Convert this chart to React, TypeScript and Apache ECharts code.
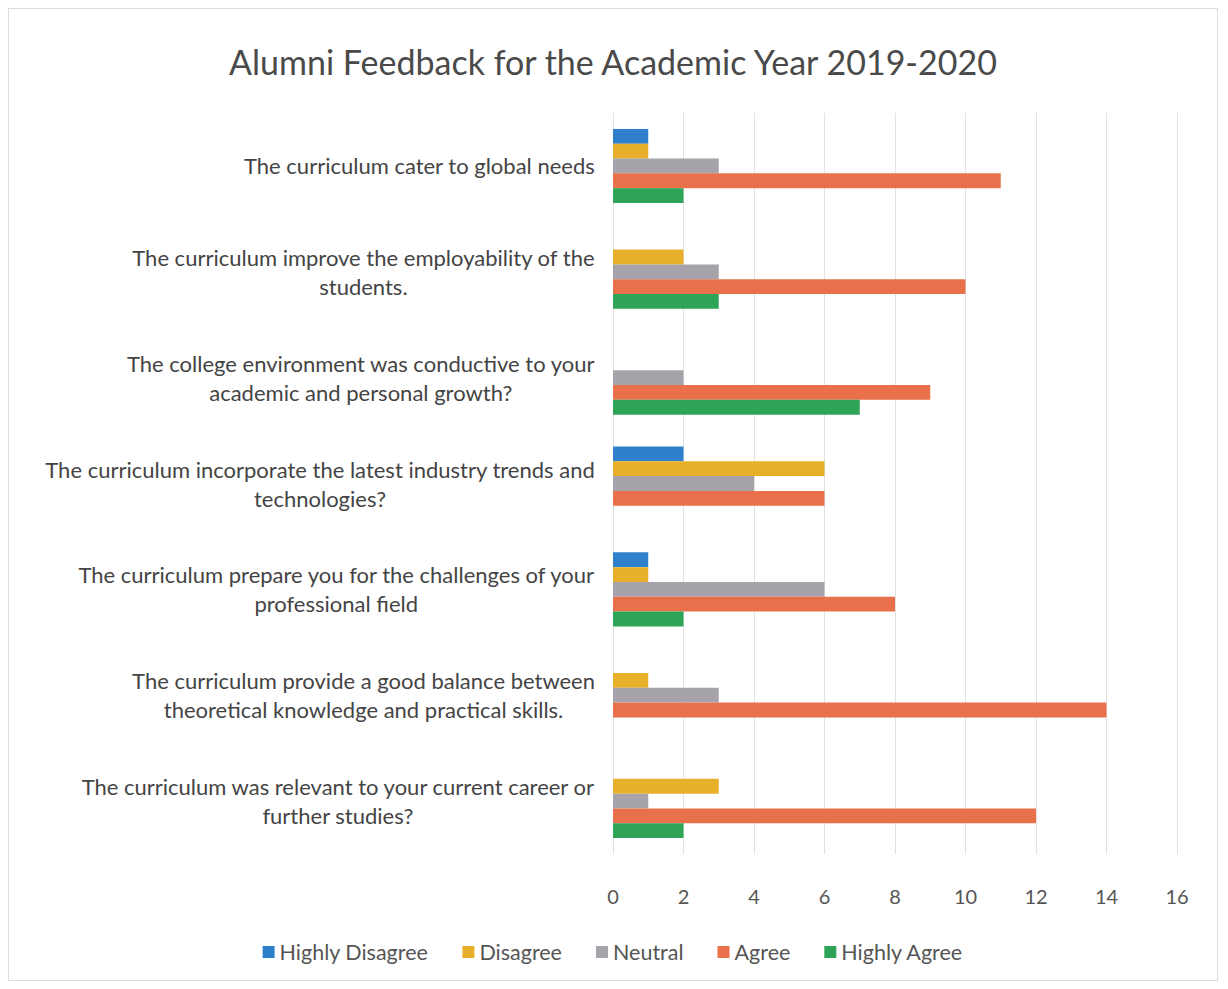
import React, { useEffect, useRef } from "react";
import * as echarts from "echarts";

const categories = [
  "The curriculum cater to global needs",
  "The curriculum improve the employability of the\nstudents.",
  "The college environment was conductive to your\nacademic and personal growth?",
  "The curriculum incorporate the latest industry trends and\ntechnologies?",
  "The curriculum prepare you for the challenges of your\nprofessional field",
  "The curriculum provide a good balance between\ntheoretical knowledge and practical skills.",
  "The curriculum was relevant to your current career or\nfurther studies?",
];

const seriesNames = ["Highly Disagree", "Disagree", "Neutral", "Agree", "Highly Agree"];
const highlyDisagree = [1, 0, 0, 2, 1, 0, 0];
const disagree = [1, 2, 0, 6, 1, 1, 3];
const neutral = [3, 3, 2, 4, 6, 3, 1];
const agree = [11, 10, 9, 6, 8, 14, 12];
const highlyAgree = [2, 3, 7, 0, 2, 0, 2];
const xTicks = { min: 0, max: 16, interval: 2 };

const colors = ["#2F80CC", "#E8B02A", "#A6A3AA", "#E8704A", "#2FA356"];

export default function App() {
  const ref = useRef<HTMLDivElement>(null);
  useEffect(() => {
    if (!ref.current) return;
    const chart = echarts.init(ref.current, undefined, { renderer: "svg" });
    const values = [highlyDisagree, disagree, neutral, agree, highlyAgree];
    const font = "Lato, 'Open Sans', sans-serif";
    chart.setOption({
      animation: false,
      color: colors,
      title: {
        text: "Alumni Feedback for the Academic Year 2019-2020",
        left: "center",
        top: 30,
        textStyle: { fontFamily: font, fontSize: 34, fontWeight: "normal", color: "#4a4a4a" },
      },
      legend: {
        bottom: 12,
        left: "center",
        itemWidth: 12,
        itemHeight: 12,
        itemGap: 34,
        icon: "rect",
        textStyle: { fontFamily: font, fontSize: 21.5, color: "#555" },
        data: seriesNames,
      },
      grid: { left: 604, right: 40, top: 104, bottom: 126, containLabel: false },
      xAxis: {
        type: "value",
        min: xTicks.min,
        max: xTicks.max,
        interval: xTicks.interval,
        axisLine: { show: false },
        axisTick: { show: false },
        splitLine: { lineStyle: { color: "#e2e2e2" } },
        axisLabel: { margin: 32, fontFamily: font, fontSize: 20, color: "#555" },
      },
      yAxis: {
        type: "category",
        inverse: true,
        data: categories,
        axisLine: { show: false },
        axisTick: { show: false },
        axisLabel: {
          margin: 18,
          align: "right",
          formatter: (v: string) => v.split("\n").map((l) => "{c|" + l + "}").join("\n"),
          rich: {
            c: { align: "center", fontFamily: font, fontSize: 22, color: "#444", lineHeight: 29 },
          },
        },
      },
      series: seriesNames.map((name, i) => ({
        name,
        type: "bar",
        data: values[i],
        barGap: "0%",
        barCategoryGap: "30%",
        itemStyle: { color: colors[i] },
      })),
    });
    return () => chart.dispose();
  }, []);
  return (
    <div
      ref={ref}
      style={{ width: 1210, height: 973, border: "1px solid #dcdcdc", boxSizing: "border-box" }}
    />
  );
}
